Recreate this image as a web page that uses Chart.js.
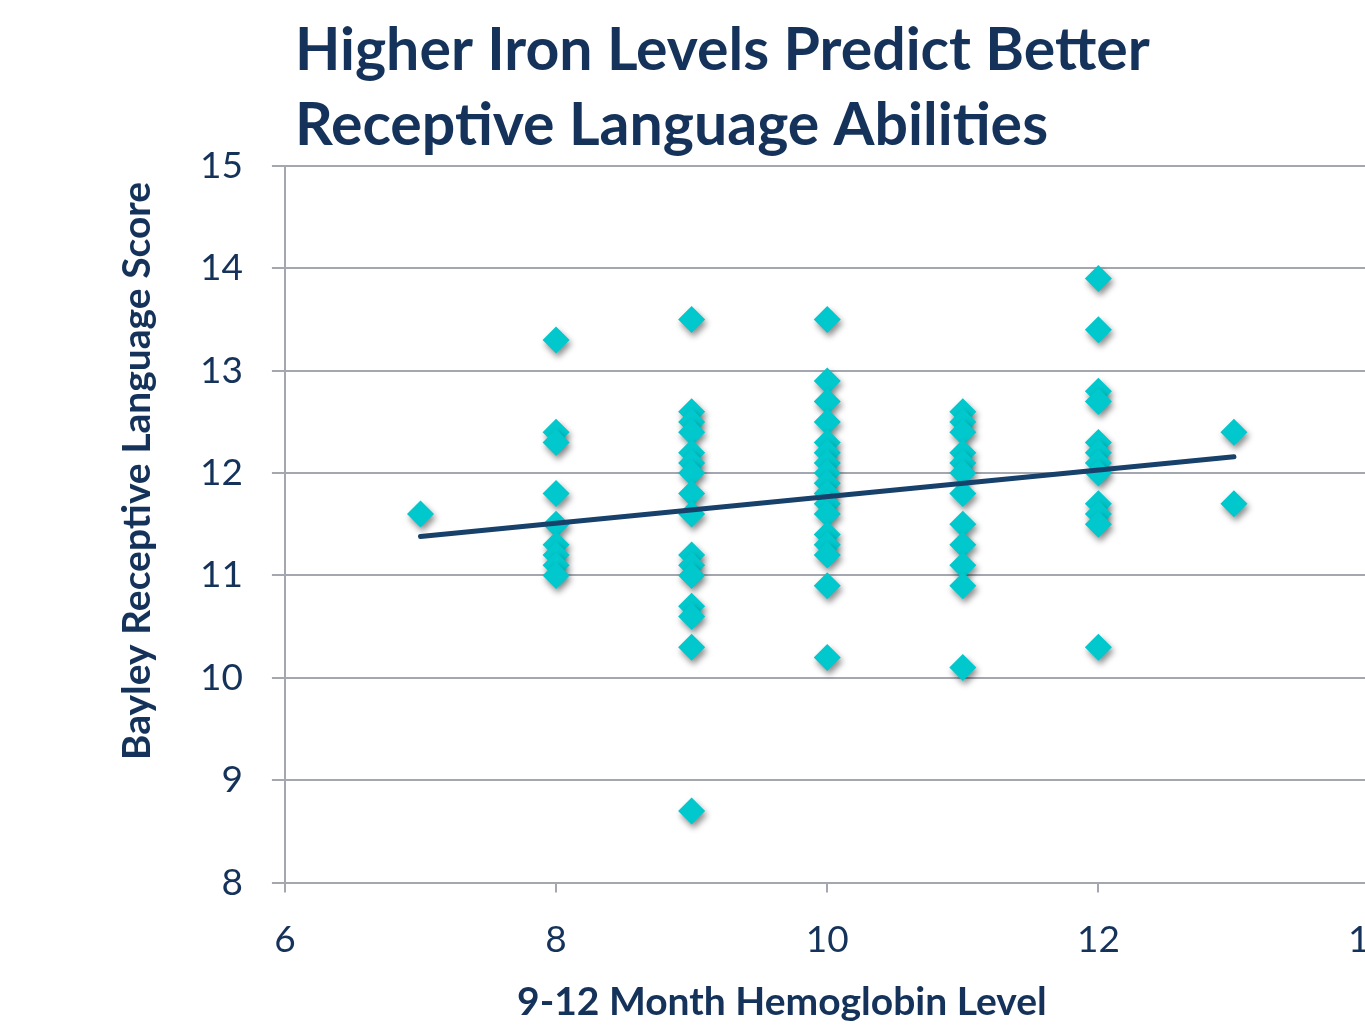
<!DOCTYPE html>
<html>
<head>
<meta charset="utf-8">
<script src="https://cdn.jsdelivr.net/npm/chart.js@4/dist/chart.umd.min.js"></script>
<style>
  html, body { margin: 0; padding: 0; background: #fff; overflow: hidden; }
  #wrap { width: 1416px; height: 1030px; }
</style>
</head>
<body>
<div id="wrap"><canvas id="chart" width="1416" height="1030"></canvas></div>
<script>
// hemoglobin level (x) -> Bayley receptive language scores
const levels = [7, 8, 9, 10, 11, 12, 13];
const scores7 = [11.6];
const scores8 = [13.3, 12.4, 12.3, 11.8, 11.5, 11.3, 11.2, 11.1, 11.0];
const scores9 = [13.5, 12.6, 12.5, 12.4, 12.2, 12.1, 12.0, 11.8, 11.6, 11.2, 11.1, 11.0, 10.7, 10.6, 10.3, 8.7];
const scores10 = [13.5, 12.9, 12.7, 12.5, 12.3, 12.2, 12.1, 12.0, 11.9, 11.8, 11.7, 11.6, 11.4, 11.3, 11.2, 10.9, 10.2];
const scores11 = [12.6, 12.5, 12.4, 12.2, 12.1, 12.0, 11.8, 11.5, 11.3, 11.1, 10.9, 10.1];
const scores12 = [13.9, 13.4, 12.8, 12.7, 12.3, 12.2, 12.1, 12.0, 11.7, 11.6, 11.5, 10.3];
const scores13 = [12.4, 11.7];
const scoreGroups = [scores7, scores8, scores9, scores10, scores11, scores12, scores13];

// linear trend line end points
const trendX = [7, 13];
const trendY = [11.38, 12.16];

const titleLines = ["Higher Iron Levels Predict Better", "Receptive Language Abilities"];
const xTitle = "9-12 Month Hemoglobin Level";
const yTitle = "Bayley Receptive Language Score";

const navy = "#14325A";
const teal = "#00C8CC";
const gridGrey = "#A5A7B0";

const points = [];
levels.forEach((lv, i) => {
  scoreGroups[i].forEach(s => points.push({ x: lv, y: s }));
});
const trend = trendX.map((x, i) => ({ x: x, y: trendY[i] }));

// drop shadow under the diamonds
const markerShadow = {
  id: "markerShadow",
  beforeDatasetDraw(chart, args) {
    if (args.index === 0) {
      const c = chart.ctx;
      c.save();
      c.shadowColor = "rgba(0,0,0,0.45)";
      c.shadowBlur = 6;
      c.shadowOffsetX = 2;
      c.shadowOffsetY = 4;
    }
  },
  afterDatasetDraw(chart, args) {
    if (args.index === 0) chart.ctx.restore();
  }
};

// chart title + axis titles (off-centre like the original slide)
const titles = {
  id: "titles",
  afterDraw(chart) {
    const c = chart.ctx;
    const a = chart.chartArea;
    c.save();
    c.fillStyle = navy;
    c.font = "bold 59px Lato";
    c.textAlign = "left";
    c.textBaseline = "alphabetic";
    c.fillText(titleLines[0], a.left + 10, a.top - 96);
    c.fillText(titleLines[1], a.left + 10, a.top - 21);

    c.font = "bold 39px Lato";
    c.textAlign = "center";
    c.textBaseline = "middle";
    c.fillText(xTitle, a.left + 497, a.bottom + 120);

    c.translate(a.left - 147, a.top + 305);
    c.rotate(-Math.PI / 2);
    c.fillText(yTitle, 0, 0);
    c.restore();
  }
};

new Chart(document.getElementById("chart"), {
  type: "scatter",
  data: {
    datasets: [
      {
        label: "scores",
        data: points,
        pointStyle: "rectRot",
        pointRadius: 13.5,
        pointHoverRadius: 13.5,
        backgroundColor: teal,
        borderWidth: 0,
        order: 1
      },
      {
        label: "trend",
        data: trend,
        showLine: true,
        borderColor: "#17406A",
        borderWidth: 5,
        borderCapStyle: "round",
        pointRadius: 0,
        pointHoverRadius: 0,
        order: 0
      }
    ]
  },
  plugins: [markerShadow, titles],
  options: {
    responsive: false,
    animation: false,
    layout: { padding: { top: 166, left: 171, right: 15, bottom: 43 } },
    plugins: { legend: { display: false }, tooltip: { enabled: false }, title: { display: false } },
    scales: {
      x: {
        type: "linear",
        min: 6, max: 14,
        ticks: { stepSize: 2, color: navy, font: { family: "Lato", size: 37 }, padding: 25 },
        grid: { drawOnChartArea: false, drawTicks: true, tickLength: 10, color: gridGrey, lineWidth: 2 },
        border: { display: true, color: gridGrey, width: 2 }
      },
      y: {
        type: "linear",
        min: 8, max: 15,
        ticks: { stepSize: 1, color: navy, font: { family: "Lato", size: 37 }, padding: 29 },
        grid: { color: gridGrey, lineWidth: 2, tickLength: 13 },
        border: { display: true, color: gridGrey, width: 2 }
      }
    }
  }
});
</script>
</body>
</html>
